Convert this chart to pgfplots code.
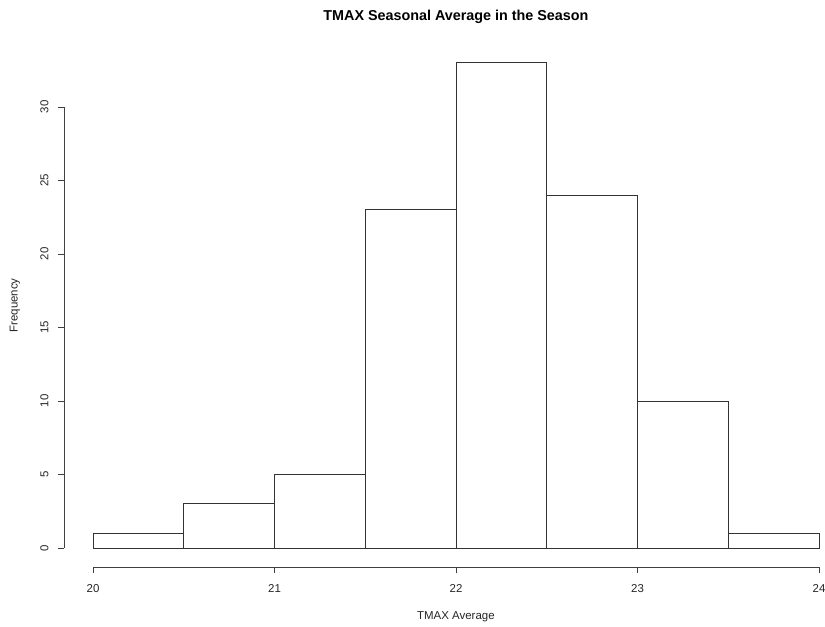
\documentclass[border=0pt]{standalone}
\usepackage{pgfplots}
\pgfplotsset{compat=1.18}
\usepackage{fontspec}
\setmainfont{Liberation Sans}

\begin{document}
\begin{tikzpicture}[x=1bp,y=1bp]
\useasboundingbox (0,0) rectangle (825,627);
\begin{axis}[
  at={(64bp,59.6bp)}, anchor=south west,
  scale only axis, width=761bp, height=523.9bp,
  xmin=19.84, xmax=24.033, ymin=-1.32, ymax=34.32,
  axis line style={draw=none},
  clip=false,
  xtick={20,21,22,23,24}, ytick={0,5,...,30},
  xtick pos=bottom, ytick pos=left,
  tick align=outside, major tick length=6bp,
  tick style={black!75, line width=0.8bp},
  /pgf/number format/assume math mode=true,
  tick label style={font=\fontsize{11.5}{13}\selectfont, text=black!85},
  xticklabel style={yshift=-8bp},
  yticklabel style={rotate=90, anchor=south, yshift=6bp},
  title={TMAX Seasonal Average in the Season},
  title style={at={(axis description cs:0.515,1.0544)}, anchor=center, yshift=-8bp,
    font=\bfseries\fontsize{14.4}{17}\selectfont},
  xlabel={TMAX Average},
  xlabel style={at={(axis description cs:0.515,-0.0947)}, anchor=center,
    font=\fontsize{11.5}{13}\selectfont, text=black!85},
  ylabel={Frequency},
  ylabel style={at={(axis description cs:-0.0644,0.5)}, anchor=center, rotate=0,
    font=\fontsize{11.5}{13}\selectfont, text=black!85},
]
% histogram counts per 0.5-wide bin
\addplot[ybar interval, fill=white, draw=black!80, line width=0.9bp]
  coordinates {(20,1) (20.5,3) (21,5) (21.5,23) (22,33) (22.5,24) (23,10) (23.5,1) (24,1)};
% base-graphics style axis lines spanning only the tick range
\draw[black!75, line width=0.8bp] (axis cs:20,-1.32) -- (axis cs:24,-1.32);
\draw[black!75, line width=0.8bp] (axis cs:19.84,0) -- (axis cs:19.84,30);
\end{axis}
\end{tikzpicture}
\end{document}
